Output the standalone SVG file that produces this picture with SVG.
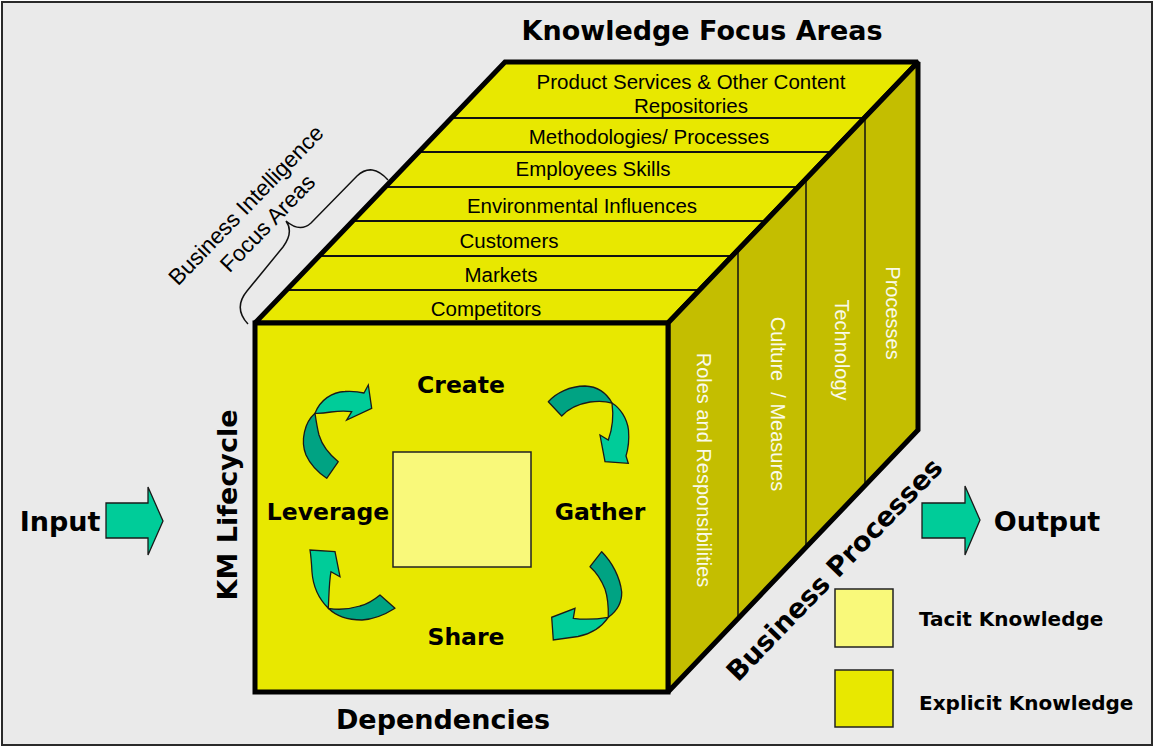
<svg xmlns="http://www.w3.org/2000/svg" width="1155" height="749" viewBox="0 0 1155 749">
<style>
.t{font-family:"Liberation Sans",Arial,sans-serif;font-size:20.5px;fill:#000;text-anchor:middle}
.w{font-family:"Liberation Sans",Arial,sans-serif;font-size:20px;fill:#FAFAEA;text-anchor:middle;white-space:pre}
.b{font-family:"DejaVu Sans",Verdana,sans-serif;font-weight:bold;fill:#000}
.big{font-size:27px}
.mid{font-size:23.5px;text-anchor:middle}
.leg{font-size:20px}
.edge{fill:none;stroke:#000;stroke-width:5;stroke-linejoin:miter;stroke-miterlimit:2.5}
.div{stroke:#111;stroke-width:2;fill:none}
.vdiv{stroke:#111;stroke-width:1.5;fill:none}
.blk{fill:#00CC99;stroke:#1a1a1a;stroke-width:1.3;stroke-linejoin:miter}
.dk{fill:#00A383;stroke:#1a1a1a;stroke-width:1.3;stroke-linejoin:round}
.lt{fill:#00CC99;stroke:#1a1a1a;stroke-width:1.3;stroke-linejoin:miter}
</style>
<rect x="2" y="2" width="1150" height="743" fill="#EAEAEA" stroke="#2a2a2a" stroke-width="2"/>

<g id="title"><text class="b big" x="702" y="40" text-anchor="middle">Knowledge Focus Areas</text></g>

<g id="top-face">
<polygon points="255,323 505,62 918,62 668,323" fill="#E8E800"/>
<line class="div" x1="451.4" y1="118" x2="864.4" y2="118"/>
<line class="div" x1="418.8" y1="152" x2="831.8" y2="152"/>
<line class="div" x1="385.3" y1="187" x2="798.3" y2="187"/>
<line class="div" x1="352.7" y1="221" x2="765.7" y2="221"/>
<line class="div" x1="319.2" y1="256" x2="732.2" y2="256"/>
<line class="div" x1="286.6" y1="290" x2="699.6" y2="290"/>
<text class="t" x="691" y="89">Product Services &amp; Other Content</text>
<text class="t" x="691" y="113">Repositories</text>
<text class="t" x="649" y="144">Methodologies/ Processes</text>
<text class="t" x="593" y="176">Employees Skills</text>
<text class="t" x="582" y="213">Environmental Influences</text>
<text class="t" x="509" y="248">Customers</text>
<text class="t" x="501" y="282">Markets</text>
<text class="t" x="486" y="316">Competitors</text>
<polygon class="edge" points="255,323 505,62 918,62 668,323"/>
</g>

<g id="right-face">
<polygon points="668,323 918,62 918,430 668,692" fill="#C4BE00"/>
<line class="vdiv" x1="738" y1="250" x2="738" y2="619"/>
<line class="vdiv" x1="806" y1="179" x2="806" y2="547"/>
<line class="vdiv" x1="865" y1="117" x2="865" y2="486"/>
<text class="w" transform="translate(697,470) rotate(90)">Roles and Responsibilities</text>
<text class="w" transform="translate(771,404) rotate(90)">Culture  / Measures</text>
<text class="w" transform="translate(835,350) rotate(90)">Technology</text>
<text class="w" transform="translate(886,313) rotate(90)">Processes</text>
<polygon class="edge" points="668,323 918,62 918,430 668,692"/>
</g>

<g id="front-face">
<rect x="255" y="323" width="413" height="369" fill="#E8E800"/>
<rect x="393" y="452" width="138" height="115" fill="#F9F97A" stroke="#222" stroke-width="1.5"/>
<text class="b mid" x="461" y="393">Create</text>
<text class="b mid" x="328" y="520">Leverage</text>
<text class="b mid" x="600" y="520">Gather</text>
<text class="b mid" x="466" y="645">Share</text>
<rect class="edge" x="255" y="323" width="413" height="369"/>
</g>

<g id="cycle-arrows">
<g id="arrow-leverage-create">
<path class="dk" d="M 315,413.3 C 305,422 300,440 306,455 C 311,466 319,473 326.7,478.3 L 338.3,461.7 C 330,455 322,445 319,435 C 317,427 316,420 315,413.3 Z"/>
<path class="lt" d="M 315,413.3 C 320,400 332,392 345,391.5 C 353,391 360,392 364,393 L 368.3,385 L 371.7,408.3 L 346.7,420 L 351.7,411.7 C 345,410.5 338,411 331,412 C 325,413 319,413.5 315,413.3 Z"/>
</g>
<g id="arrow-create-gather">
<path class="dk" d="M 548.3,401.7 C 556,393 570,386 585,386 C 597,386.5 606,392 612,403 C 605,401 598,401 590,402 C 578,404 568,409 561.7,416 Z"/>
<path class="lt" d="M 612,403 C 620,408 627,418 628.5,430 C 629.5,442 627.5,451 626,456 L 628.3,463.3 L 605,461.7 L 600,435 L 608.3,440 C 612,430 614,418 612,403 Z"/>
</g>
<g id="arrow-gather-share">
<path class="dk" d="M 601.7,551.7 C 612,562 620,577 621.7,592 C 622,603 617,611 608.3,617.3 C 608.5,608 608,598 605,589 C 601,579 596,572 590,566.7 Z"/>
<path class="lt" d="M 608.3,617.3 C 601,628 590,634 578,636.5 L 553.3,640 L 551.7,617.3 L 575,608.3 L 573.3,618.3 C 585,620 598,619 608.3,617.3 Z"/>
</g>
<g id="arrow-share-leverage">
<path class="dk" d="M 328.3,608.3 C 336,616 348,620 362,620 C 374,619.5 386,614 395,608.3 L 380,595 C 374,600 368,604 360,606 C 350,609 338,610 328.3,608.3 Z"/>
<path class="lt" d="M 328.3,608.3 C 318,598 313,586 312,572 C 311.5,563 311,556 310,550 L 335,551.7 L 340,576.7 L 331,571.7 C 329,582 329,596 328.3,608.3 Z"/>
</g>
</g>

<g id="bi-label">
<path d="M 248,324 Q 233,308 247,291 L 283,247 Q 294,232 286,221 Q 300,233 311,223 L 357,176 Q 372,162 388,180" fill="none" stroke="#111" stroke-width="1.5"/>
<g transform="translate(251.5,210.4) rotate(-46)">
<text class="t" style="font-size:22.5px" x="0" y="0">Business Intelligence</text>
<text class="t" style="font-size:22.5px" x="2" y="28">Focus Areas</text>
</g>
</g>

<g id="km-lifecycle"><text class="b big" text-anchor="middle" transform="translate(237,505) rotate(-90)">KM Lifecycle</text></g>
<g id="dependencies"><text class="b big" x="443" y="729" text-anchor="middle">Dependencies</text></g>
<g id="business-processes"><text class="b big" text-anchor="middle" transform="translate(841,576) rotate(-46)">Business Processes</text></g>

<g id="input">
<text class="b big" x="60" y="531" text-anchor="middle">Input</text>
<polygon class="blk" points="106,503 148,503 148,487 163,521 148,555 148,538 106,538"/>
</g>
<g id="output">
<polygon class="blk" points="922,503 965,503 965,486 980,520 965,555 965,538 922,538"/>
<text class="b big" x="1047" y="531" text-anchor="middle">Output</text>
</g>

<g id="legend">
<rect x="835" y="589" width="58" height="58" fill="#F9F97A" stroke="#222" stroke-width="1.5"/>
<text class="b leg" x="919" y="626">Tacit Knowledge</text>
<rect x="835" y="670" width="58" height="57" fill="#E8E800" stroke="#222" stroke-width="1.5"/>
<text class="b leg" x="919" y="710">Explicit Knowledge</text>
</g>
</svg>
